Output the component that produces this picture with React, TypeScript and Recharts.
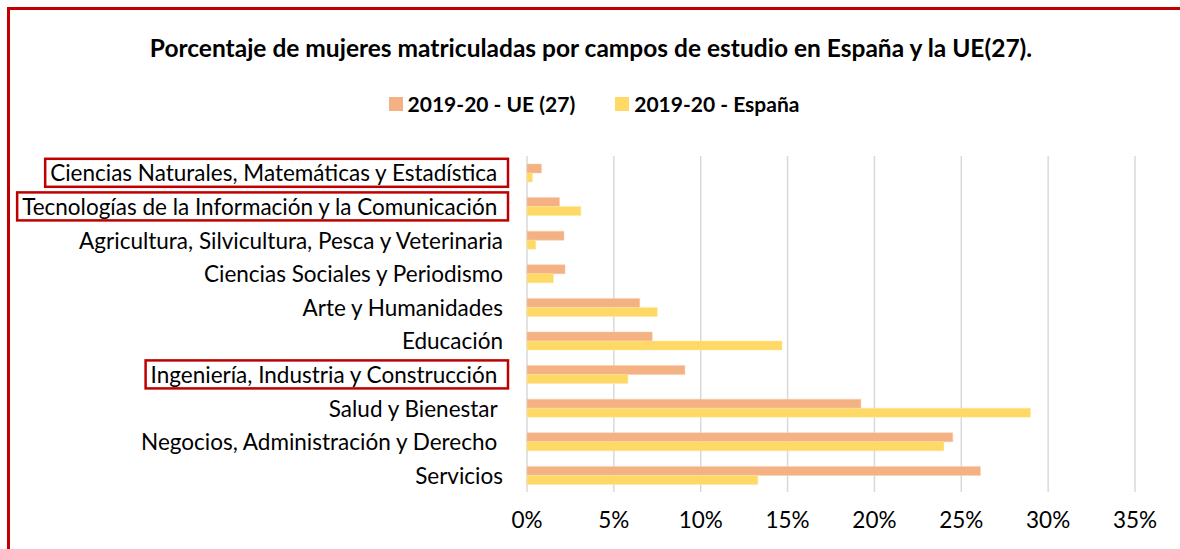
import React, { useLayoutEffect, useRef, useState } from "react";
import { BarChart, Bar, XAxis, YAxis, CartesianGrid } from "recharts";

const TITLE = "Porcentaje de mujeres matriculadas por campos de estudio en España y la UE(27).";

const categories = [
  "Ciencias Naturales, Matemáticas y Estadística ",
  "Tecnologías de la Información y la Comunicación ",
  "Agricultura, Silvicultura, Pesca y Veterinaria",
  "Ciencias Sociales y Periodismo",
  "Arte y Humanidades",
  "Educación",
  "Ingeniería, Industria y Construcción ",
  "Salud y Bienestar ",
  "Negocios, Administración y Derecho ",
  "Servicios",
];

const highlightedCategories = [
  "Ciencias Naturales, Matemáticas y Estadística ",
  "Tecnologías de la Información y la Comunicación ",
  "Ingeniería, Industria y Construcción ",
];

const seriesNames = ["2019-20 - UE (27)", "2019-20 - España"];
const seriesColors = ["#F4B183", "#FFD966"];

const ueValues = [0.0083, 0.0187, 0.0213, 0.0219, 0.0649, 0.0721, 0.0909, 0.1922, 0.2451, 0.261];
const esValues = [0.0031, 0.031, 0.005, 0.0152, 0.075, 0.1468, 0.0581, 0.2898, 0.24, 0.1329];

const xTicks = [0, 0.05, 0.1, 0.15, 0.2, 0.25, 0.3, 0.35];

const data = categories.map((c, i) => ({ name: c, ue: ueValues[i], es: esValues[i] }));

const FONT = "Lato, 'Open Sans', sans-serif";
const LABEL_SIZE = 22.5;

function CategoryTick(props: any) {
  const { x, y, payload } = props;
  const ref = useRef<SVGTextElement>(null);
  const [box, setBox] = useState<{ x: number; w: number } | null>(null);
  const highlighted = highlightedCategories.includes(payload.value);
  useLayoutEffect(() => {
    if (highlighted && ref.current) {
      const b = ref.current.getBBox();
      setBox({ x: b.x, w: b.width });
    }
  }, [payload.value, x, y, highlighted]);
  return (
    <g>
      {highlighted && box && (
        <rect x={box.x - 5} y={y - 14} width={box.w + 10} height={28} fill="none" stroke="#C00000" strokeWidth={2.5} />
      )}
      <text
        ref={ref}
        x={x}
        y={y}
        textAnchor="end"
        dominantBaseline="central"
        fill="#000"
        fontSize={LABEL_SIZE}
        fontFamily={FONT}
        style={{ whiteSpace: "pre" }}
      >
        {payload.value}
      </text>
    </g>
  );
}

export default function App() {
  return (
    <div style={{ position: "absolute", left: 0, top: 0, width: 1180, height: 549, background: "#fff", overflow: "hidden", fontFamily: FONT }}>
      <div
        style={{
          position: "absolute",
          left: 7,
          top: 7,
          width: 1173,
          height: 542,
          borderTop: "3px solid #C00000",
          borderLeft: "3px solid #C00000",
          boxSizing: "border-box",
        }}
      />
      <div style={{ position: "absolute", left: 0, top: 32, width: 1180, textAlign: "center", fontWeight: 700, fontSize: 24.5, color: "#000", lineHeight: "32px", paddingLeft: 2, boxSizing: "border-box" }}>
        {TITLE}
      </div>
      <div style={{ position: "absolute", left: 0, top: 90, width: 1180, display: "flex", justifyContent: "center", gap: 40, fontWeight: 700, fontSize: 21, lineHeight: "28px", paddingLeft: 8, boxSizing: "border-box" }}>
        {seriesNames.map((n, i) => (
          <div key={n} style={{ display: "flex", alignItems: "center" }}>
            <span style={{ display: "inline-block", width: 14, height: 14, background: seriesColors[i], marginRight: 5 }} />
            <span>{n}</span>
          </div>
        ))}
      </div>
      <div style={{ position: "absolute", left: 0, top: 0 }}>
        <BarChart
          width={1180}
          height={549}
          data={data}
          layout="vertical"
          margin={{ top: 156, right: 45, bottom: 0, left: 0 }}
          barGap={0}
          barSize={9}
        >
          <CartesianGrid horizontal={false} vertical={true} stroke="#D9D9D9" strokeWidth={1.5} />
          <XAxis
            type="number"
            domain={[0, 0.35]}
            ticks={xTicks}
            tickFormatter={(v: number) => `${Math.round(v * 100)}%`}
            axisLine={false}
            tickLine={false}
            tickSize={0}
            tickMargin={20}
            height={57}
            interval={0}
            tick={{ fill: "#000", fontSize: LABEL_SIZE, fontFamily: FONT }}
          />
          <YAxis
            type="category"
            dataKey="name"
            width={527}
            axisLine={false}
            tickLine={false}
            tickSize={0}
            tickMargin={24}
            interval={0}
            tick={<CategoryTick />}
          />
          <Bar dataKey="ue" name={seriesNames[0]} fill={seriesColors[0]} stroke="#F8CBAD" strokeWidth={0.5} isAnimationActive={false} />
          <Bar dataKey="es" name={seriesNames[1]} fill={seriesColors[1]} stroke="#FFE699" strokeWidth={0.5} isAnimationActive={false} />
        </BarChart>
      </div>
    </div>
  );
}
